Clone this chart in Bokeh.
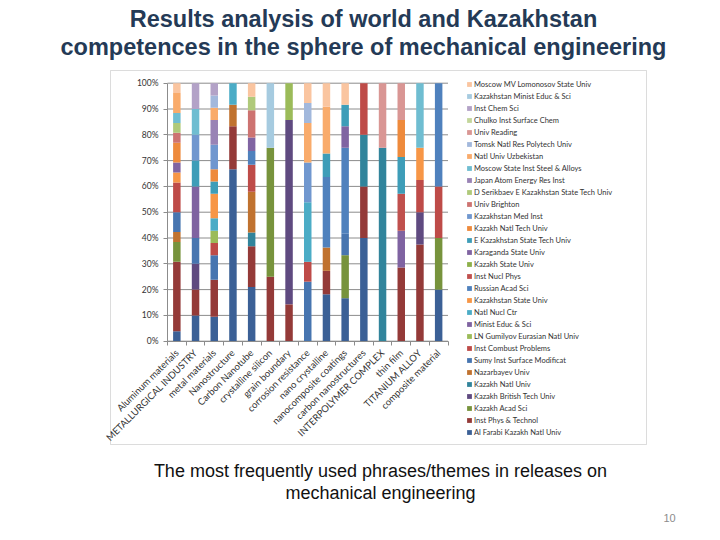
from bokeh.plotting import figure
from bokeh.models import (ColumnDataSource, Legend, LegendItem, Label, BoxAnnotation,
                          FixedTicker, LinearAxis, Range1d)
from bokeh.embed import file_html
from bokeh.resources import INLINE

# ---------------- data ----------------
categories = ["Aluminum materials", "METALLURGICAL INDUSTRY", "metal materials", "Nanostructure",
              "Carbon Nanotube", "crystalline silicon", "grain boundary", "corrosion resistance",
              "nano crystalline", "nanocomposite coatings", "carbon nanostructures",
              "INTERPOLYMER COMPLEX", "thin film", "TITANIUM ALLOY", "composite material"]

# series listed bottom of stack -> top of stack (counts per category)
series_names = [
    "Al Farabi Kazakh Natl Univ", "Inst Phys & Technol", "Kazakh Acad Sci", "Kazakh British Tech Univ",
    "Kazakh Natl Univ", "Nazarbayev Univ", "Sumy Inst Surface Modificat", "Inst Combust Problems",
    "LN Gumilyov Eurasian Natl Univ", "Minist Educ & Sci", "Natl Nucl Ctr", "Kazakhstan State Univ",
    "Russian Acad Sci", "Inst Nucl Phys", "Kazakh State Univ", "Karaganda State Univ",
    "E Kazakhstan State Tech Univ", "Kazakh Natl Tech Univ", "Kazakhstan Med Inst", "Univ Brighton",
    "D Serikbaev E Kazakhstan State Tech Univ", "Japan Atom Energy Res Inst",
    "Moscow State Inst Steel & Alloys", "Natl Univ Uzbekistan", "Tomsk Natl Res Polytech Univ",
    "Univ Reading", "Chulko Inst Surface Chem", "Inst Chem Sci", "Kazakhstan Minist Educ & Sci",
    "Moscow MV Lomonosov State Univ"]

#                          Alu MET met Nan CNT csi gb  cor nc  ncc cns IPC tf  TI  com
al_farabi              = [1,  1,  2,  8,  4,  0,  0,  0,  2,  2,  2,  0,  0,  0,  1]
inst_phys_technol      = [7,  1,  3,  2,  3,  1,  1,  0,  1,  0,  1,  0,  2,  3,  0]
kazakh_acad_sci        = [2,  0,  0,  0,  0,  2,  0,  0,  0,  2,  0,  0,  0,  0,  1]
kazakh_british         = [0,  1,  0,  0,  0,  0,  5,  0,  0,  0,  0,  0,  0,  1,  0]
kazakh_natl_univ       = [0,  0,  0,  0,  1,  0,  0,  0,  0,  0,  1,  3,  0,  0,  0]
nazarbayev             = [1,  0,  0,  1,  3,  0,  0,  0,  1,  0,  0,  0,  0,  0,  0]
sumy                   = [2,  1,  2,  0,  0,  0,  0,  3,  0,  1,  0,  0,  0,  0,  0]
inst_combust           = [3,  0,  1,  0,  2,  0,  0,  1,  0,  0,  1,  0,  0,  1,  1]
gumilyov               = [0,  0,  1,  0,  0,  0,  1,  0,  0,  0,  0,  0,  0,  0,  0]
minist_educ            = [0,  2,  0,  0,  0,  0,  0,  0,  0,  0,  0,  0,  1,  0,  0]
natl_nucl_ctr          = [0,  0,  1,  1,  0,  0,  0,  3,  0,  0,  0,  0,  0,  0,  0]
kazakhstan_state_univ  = [1,  0,  2,  0,  0,  0,  0,  0,  0,  0,  0,  0,  0,  1,  0]
russian_acad_sci       = [0,  0,  0,  0,  1,  0,  0,  0,  3,  4,  0,  0,  0,  0,  2]
inst_nucl_phys         = [0,  0,  0,  0,  0,  0,  0,  0,  0,  0,  0,  0,  1,  0,  0]
kazakh_state_univ      = [0,  0,  0,  0,  0,  0,  0,  0,  0,  0,  0,  0,  0,  0,  0]
karaganda              = [1,  0,  0,  0,  1,  0,  0,  0,  0,  1,  0,  0,  0,  0,  0]
e_kaz_tech             = [0,  1,  1,  0,  0,  0,  0,  0,  1,  1,  0,  0,  1,  0,  0]
kazakh_natl_tech       = [2,  0,  1,  0,  0,  0,  0,  0,  0,  0,  0,  0,  1,  0,  0]
kazakhstan_med_inst    = [0,  1,  2,  0,  0,  0,  0,  2,  0,  0,  0,  0,  0,  0,  0]
univ_brighton          = [1,  0,  0,  0,  2,  0,  0,  0,  0,  0,  0,  0,  0,  0,  0]
serikbaev              = [1,  0,  0,  0,  1,  0,  0,  0,  0,  0,  0,  0,  0,  0,  0]
japan_atom             = [0,  0,  2,  0,  0,  0,  0,  0,  0,  0,  0,  0,  0,  0,  0]
moscow_steel           = [1,  1,  0,  0,  0,  0,  0,  0,  0,  0,  0,  0,  0,  2,  0]
natl_univ_uzbekistan   = [2,  0,  1,  0,  0,  0,  0,  2,  2,  0,  0,  0,  0,  0,  0]
tomsk                  = [0,  0,  1,  0,  0,  0,  0,  1,  0,  0,  0,  0,  0,  0,  0]
univ_reading           = [0,  0,  0,  0,  0,  0,  0,  0,  0,  0,  0,  1,  1,  0,  0]
chulko                 = [0,  0,  0,  0,  0,  0,  0,  0,  0,  0,  0,  0,  0,  0,  0]
inst_chem_sci          = [0,  1,  1,  0,  0,  0,  0,  0,  0,  0,  0,  0,  0,  0,  0]
kazakhstan_minist      = [0,  0,  0,  0,  0,  1,  0,  0,  0,  0,  0,  0,  0,  0,  0]
moscow_mv              = [1,  0,  0,  0,  1,  0,  0,  1,  1,  1,  0,  0,  0,  0,  0]

series_values = [al_farabi, inst_phys_technol, kazakh_acad_sci, kazakh_british, kazakh_natl_univ,
                 nazarbayev, sumy, inst_combust, gumilyov, minist_educ, natl_nucl_ctr,
                 kazakhstan_state_univ, russian_acad_sci, inst_nucl_phys, kazakh_state_univ,
                 karaganda, e_kaz_tech, kazakh_natl_tech, kazakhstan_med_inst, univ_brighton,
                 serikbaev, japan_atom, moscow_steel, natl_univ_uzbekistan, tomsk, univ_reading,
                 chulko, inst_chem_sci, kazakhstan_minist, moscow_mv]

series_colors = ["#3B6096", "#943A38", "#77933C", "#5F4A80", "#31849B", "#C0722F",
                 "#4775B0", "#BE4B48", "#9BBB59", "#7F63A1", "#4BACC6", "#F79646",
                 "#4F81BD", "#C0504D", "#8DB04A", "#8064A2", "#3E9DB8", "#EE8A3C",
                 "#7097CF", "#CD7371", "#AFC97A", "#9983B5", "#6FBDD1", "#F9AB6B",
                 "#A2B8DC", "#D99694", "#C3D69B", "#B3A2C7", "#A6CBE0", "#FAC5A0"]

y_ticks = [0, 10, 20, 30, 40, 50, 60, 70, 80, 90, 100]

# ---------------- build table ----------------
n_cat = len(categories)
totals = [sum(s[i] for s in series_values) for i in range(n_cat)]
keys = [f"s{k}" for k in range(len(series_names))]
data = {"x": [i + 0.5 for i in range(n_cat)]}
for k, vals in zip(keys, series_values):
    data[k] = [100.0 * v / t for v, t in zip(vals, totals)]
source = ColumnDataSource(data)

# ---------------- layout constants (page pixels) ----------------
W, H = 720, 540
PL, PR, PT, PB = 167.0, 447.5, 82.7, 340.7     # plot-area edges
ppx = (PR - PL) / n_cat
ppy = (PB - PT) / 100.0
x_range = Range1d(-PL / ppx, n_cat + (W - PR) / ppx)
y_range = Range1d(-(H - PB) / ppy, 100 + PT / ppy)

p = figure(width=W, height=H, output_backend="svg", toolbar_location=None,
           x_range=x_range, y_range=y_range,
           min_border=0, x_axis_location=None, y_axis_location=None)
p.outline_line_color = None
p.background_fill_color = "white"
p.border_fill_color = "white"
p.xgrid.visible = False
p.ygrid.visible = False

# horizontal gridlines across the plot area
p.segment(x0=[0] * len(y_ticks), x1=[n_cat] * len(y_ticks), y0=y_ticks, y1=y_ticks,
          line_color="#8C8C8C", line_width=1)

renderers = p.vbar_stack(keys, x="x", width=0.4, source=source, color=series_colors,
                         line_color=None)

axis_font = "Lato"
yaxis = LinearAxis(ticker=FixedTicker(ticks=y_ticks), fixed_location=0, bounds=(0, 100),
                   major_label_overrides={t: f"{t}%" for t in y_ticks})
yaxis.axis_line_color = "#8C8C8C"
yaxis.major_tick_line_color = "#8C8C8C"
yaxis.major_tick_out = 4
yaxis.major_tick_in = 0
yaxis.minor_tick_line_color = None
yaxis.major_label_text_font = axis_font
yaxis.major_label_text_font_size = "8.5px"
yaxis.major_label_text_color = "#333333"
yaxis.major_label_standoff = 5
p.add_layout(yaxis, "left")

centers = [i + 0.5 for i in range(n_cat)]
xaxis = LinearAxis(ticker=FixedTicker(ticks=centers, minor_ticks=list(range(n_cat + 1))),
                   fixed_location=0, bounds=(0, n_cat),
                   major_label_overrides={c: name for c, name in zip(centers, categories)})
xaxis.axis_line_color = "#8C8C8C"
xaxis.major_tick_line_color = None
xaxis.minor_tick_line_color = "#8C8C8C"
xaxis.minor_tick_out = 4
xaxis.minor_tick_in = 0
xaxis.major_label_orientation = 0.785398
xaxis.major_label_text_font = axis_font
xaxis.major_label_text_font_size = "9.5px"
xaxis.major_label_text_color = "#333333"
xaxis.major_label_standoff = 4
p.add_layout(xaxis, "below")

# legend (top item = top of stack)
items = [LegendItem(label=name, renderers=[r]) for name, r in zip(series_names, renderers)][::-1]
legend = Legend(items=items, location=(466, 103), orientation="vertical")
legend.glyph_width = 6
legend.glyph_height = 6
legend.label_height = 10
legend.spacing = 2
legend.padding = 0
legend.margin = 0
legend.label_standoff = 2
legend.label_text_font = axis_font
legend.label_text_font_size = "7.5px"
legend.label_text_color = "#333333"
legend.border_line_color = None
legend.background_fill_alpha = 0
p.add_layout(legend, "center")

# outer chart box
p.add_layout(BoxAnnotation(left=110, right=646, top=H - 70, bottom=H - 444,
                           left_units="screen", right_units="screen",
                           top_units="screen", bottom_units="screen",
                           fill_color=None, fill_alpha=0, line_color="#8C8C8C", line_width=1))

# texts
title_lines = ["Results analysis of world and Kazakhstan",
               "competences in the sphere of mechanical engineering"]
for i, t in enumerate(title_lines):
    p.add_layout(Label(x=363, y=H - 18 - 28 * i, x_units="screen", y_units="screen", text=t,
                       text_align="center", text_baseline="middle",
                       text_font="Liberation Sans", text_font_style="bold",
                       text_font_size="23.5px", text_color="#243A56"))
sub_lines = ["The most frequently used phrases/themes in releases on", "mechanical engineering"]
for i, t in enumerate(sub_lines):
    p.add_layout(Label(x=380, y=H - 470 - 22 * i, x_units="screen", y_units="screen", text=t,
                       text_align="center", text_baseline="middle",
                       text_font="Liberation Sans", text_font_size="18px", text_color="#111111"))
p.add_layout(Label(x=669, y=H - 517, x_units="screen", y_units="screen", text="10",
                   text_align="center", text_baseline="middle",
                   text_font="Liberation Sans", text_font_size="11px", text_color="#8C8C8C"))

open("out.html", "w").write(file_html(p, INLINE))
